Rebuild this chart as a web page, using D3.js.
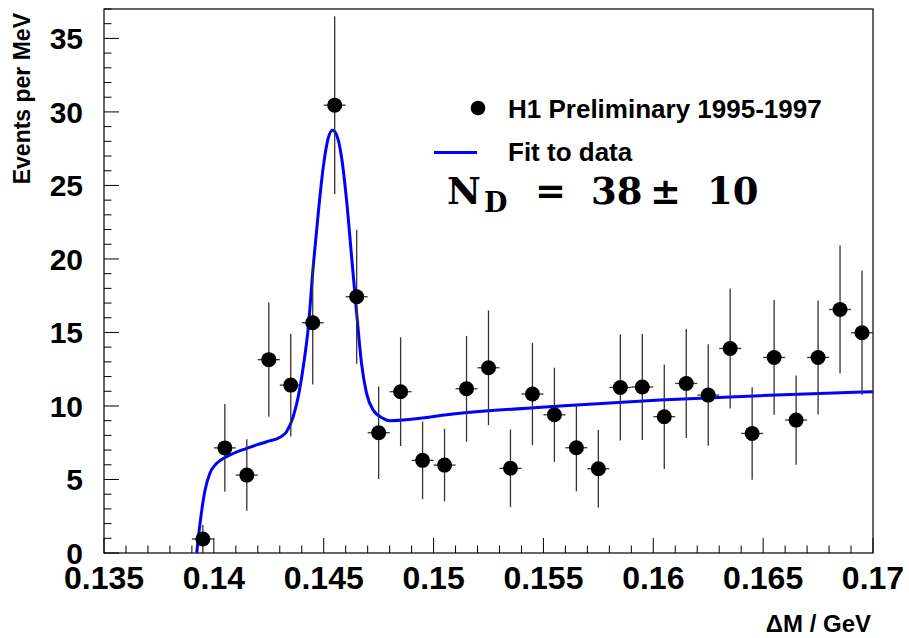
<!DOCTYPE html>
<html>
<head>
<meta charset="utf-8">
<script src="https://cdn.jsdelivr.net/npm/d3@7"></script>
<style>
  body { margin: 0; background: #fff; }
  svg { display: block; }
</style>
</head>
<body>
<div id="chart"></div>
<script>
// ── Data: H1 D* mass difference spectrum ─────────────────────────
const binCenters = [0.1395, 0.1405, 0.1415, 0.1425, 0.1435, 0.1445, 0.1455, 0.1465,
                    0.1475, 0.1485, 0.1495, 0.1505, 0.1515, 0.1525, 0.1535, 0.1545,
                    0.1555, 0.1565, 0.1575, 0.1585, 0.1595, 0.1605, 0.1615, 0.1625,
                    0.1635, 0.1645, 0.1655, 0.1665, 0.1675, 0.1685, 0.1695];
const binHalfWidth = 0.0005;
const events = [0.95, 7.15, 5.3, 13.15, 11.42, 15.66, 30.46, 17.43,
                8.18, 10.97, 6.3, 5.98, 11.17, 12.6, 5.76, 10.81,
                9.4, 7.16, 5.73, 11.26, 11.29, 9.27, 11.53, 10.74,
                13.91, 8.13, 13.3, 9.04, 13.3, 16.56, 14.98];
const errors = [0.95, 2.98, 2.43, 3.88, 3.5, 4.2, 6.05, 4.55,
                3.15, 3.7, 2.64, 2.47, 3.6, 3.9, 2.64, 3.48,
                3.2, 2.97, 2.64, 3.6, 3.6, 3.55, 3.7, 3.45,
                4.08, 3.15, 3.9, 3.03, 3.88, 4.35, 4.24];

// fit curve
const fitX = [0.13922, 0.13937, 0.13960, 0.13982, 0.14013, 0.14058, 0.14149, 0.14240,
              0.14301, 0.14331, 0.14361, 0.14384, 0.14407, 0.14430, 0.14452, 0.14475,
              0.14498, 0.14520, 0.14540, 0.14559, 0.14581, 0.14604, 0.14627, 0.14650,
              0.14672, 0.14695, 0.14725, 0.14770, 0.14801, 0.15120, 0.15575, 0.16030,
              0.16485, 0.17000];
const fitY = [0, 2.0, 4.28, 5.42, 6.1, 6.55, 7.12, 7.57,
              7.87, 8.25, 9.27, 10.63, 12.67, 15.38, 19.46, 23.09,
              26.26, 28.19, 28.76, 28.42, 26.94, 24.0, 20.14, 16.3,
              12.9, 10.86, 9.72, 9.16, 9.0, 9.5, 10.0, 10.4,
              10.7, 10.97];

const xDomain = [0.135, 0.17];
const yDomain = [0, 37];
const xTicks = [0.135, 0.14, 0.145, 0.15, 0.155, 0.16, 0.165, 0.17];
const yTicks = [0, 5, 10, 15, 20, 25, 30, 35];

function drawChart() {
    const width = 909, height = 638;
    const left = 104, right = 873, top = 9, bottom = 553;
    const sans = "'Liberation Sans', Arial, Helvetica, sans-serif";

    const svg = d3.select("#chart").append("svg")
        .attr("width", width).attr("height", height);

    const x = d3.scaleLinear().domain(xDomain).range([left, right]);
    const y = d3.scaleLinear().domain(yDomain).range([bottom, top]);

    svg.append("defs").append("clipPath").attr("id", "plot-clip")
        .append("rect").attr("x", left).attr("y", top)
        .attr("width", right - left).attr("height", bottom - top);

    // Frame
    svg.append("rect").attr("x", left).attr("y", top)
        .attr("width", right - left).attr("height", bottom - top)
        .attr("fill", "none").attr("stroke", "#000").attr("stroke-width", 1.2);

    // Ticks (inside the frame, ROOT style)
    const xMinor = d3.range(0, 36).map(i => xDomain[0] + i * 0.001);
    const yMinor = d3.range(0, 38);
    const ticks = svg.append("g").attr("stroke", "#000").attr("stroke-width", 1);
    ticks.selectAll("line.xt").data(xMinor).join("line").attr("class", "xt")
        .attr("x1", d => x(d)).attr("x2", d => x(d))
        .attr("y1", bottom)
        .attr("y2", (d, i) => bottom - (i % 5 === 0 ? 15 : 7.5));
    ticks.selectAll("line.yt").data(yMinor).join("line").attr("class", "yt")
        .attr("y1", d => y(d)).attr("y2", d => y(d))
        .attr("x1", left)
        .attr("x2", d => left + (d % 5 === 0 ? 15 : 7.5));

    // Tick labels
    svg.append("g").selectAll("text").data(xTicks).join("text")
        .attr("x", d => x(d)).attr("y", 589)
        .attr("text-anchor", "middle")
        .style("font-family", sans).style("font-weight", "bold").style("font-size", "32px")
        .text(d => d3.format("")(+d.toFixed(3)));
    svg.append("g").selectAll("text").data(yTicks).join("text")
        .attr("x", 83).attr("y", d => y(d)).attr("dy", "0.36em")
        .attr("text-anchor", "end")
        .style("font-family", sans).style("font-weight", "bold").style("font-size", "30px")
        .text(d => d);

    // Axis titles
    svg.append("text")
        .attr("transform", "translate(30,13) rotate(-90)")
        .attr("text-anchor", "end")
        .style("font-family", sans).style("font-weight", "bold").style("font-size", "23px")
        .text("Events per MeV");
    svg.append("text")
        .attr("x", 871).attr("y", 632).attr("text-anchor", "end")
        .style("font-family", sans).style("font-weight", "bold").style("font-size", "24px")
        .text("\u0394M / GeV");

    const plot = svg.append("g").attr("clip-path", "url(#plot-clip)");

    // Fit curve
    const fit = fitX.map((d, i) => [d, fitY[i]]);
    plot.append("path").datum(fit)
        .attr("d", d3.line().x(d => x(d[0])).y(d => y(d[1])).curve(d3.curveMonotoneX))
        .attr("fill", "none").attr("stroke", "#0000ff").attr("stroke-width", 3);

    // Data points with errors
    const pts = binCenters.map((c, i) => ({ c, v: events[i], e: errors[i] }));
    const bars = plot.append("g").attr("stroke", "#333").attr("stroke-width", 1.3);
    bars.selectAll("line.ey").data(pts).join("line").attr("class", "ey")
        .attr("x1", d => x(d.c)).attr("x2", d => x(d.c))
        .attr("y1", d => y(d.v - d.e)).attr("y2", d => y(d.v + d.e));
    bars.selectAll("line.ex").data(pts).join("line").attr("class", "ex")
        .attr("x1", d => x(d.c - binHalfWidth)).attr("x2", d => x(d.c + binHalfWidth))
        .attr("y1", d => y(d.v)).attr("y2", d => y(d.v));
    plot.selectAll("circle.pt").data(pts).join("circle").attr("class", "pt")
        .attr("cx", d => x(d.c)).attr("cy", d => y(d.v)).attr("r", 7.5)
        .attr("fill", "#000");

    // Legend
    const legend = svg.append("g");
    legend.append("circle").attr("cx", 478).attr("cy", 108).attr("r", 7.3).attr("fill", "#000");
    legend.append("text").attr("x", 508).attr("y", 117.5)
        .style("font-family", sans).style("font-weight", "bold").style("font-size", "26px")
        .text("H1 Preliminary 1995-1997");
    legend.append("line").attr("x1", 434).attr("x2", 477).attr("y1", 152.5).attr("y2", 152.5)
        .attr("stroke", "#0000ff").attr("stroke-width", 3);
    legend.append("text").attr("x", 508).attr("y", 160.5)
        .style("font-family", sans).style("font-weight", "bold").style("font-size", "26px")
        .text("Fit to data");

    // N_D annotation
    const serif = "'DejaVu Serif', 'Liberation Serif', serif";
    const nd = svg.append("text").attr("y", 204)
        .style("font-family", serif).style("font-weight", "bold").style("font-size", "37px");
    nd.append("tspan").attr("x", 447).text("N");
    nd.append("tspan").attr("x", 484).attr("dy", 8).style("font-size", "27px").text("D");
    nd.append("tspan").attr("x", 535).attr("dy", -8).text("=");
    nd.append("tspan").attr("x", 591).text("38");
    nd.append("tspan").attr("x", 650).text("\u00b1");
    nd.append("tspan").attr("x", 707).text("10");
}

drawChart();
</script>
</body>
</html>
